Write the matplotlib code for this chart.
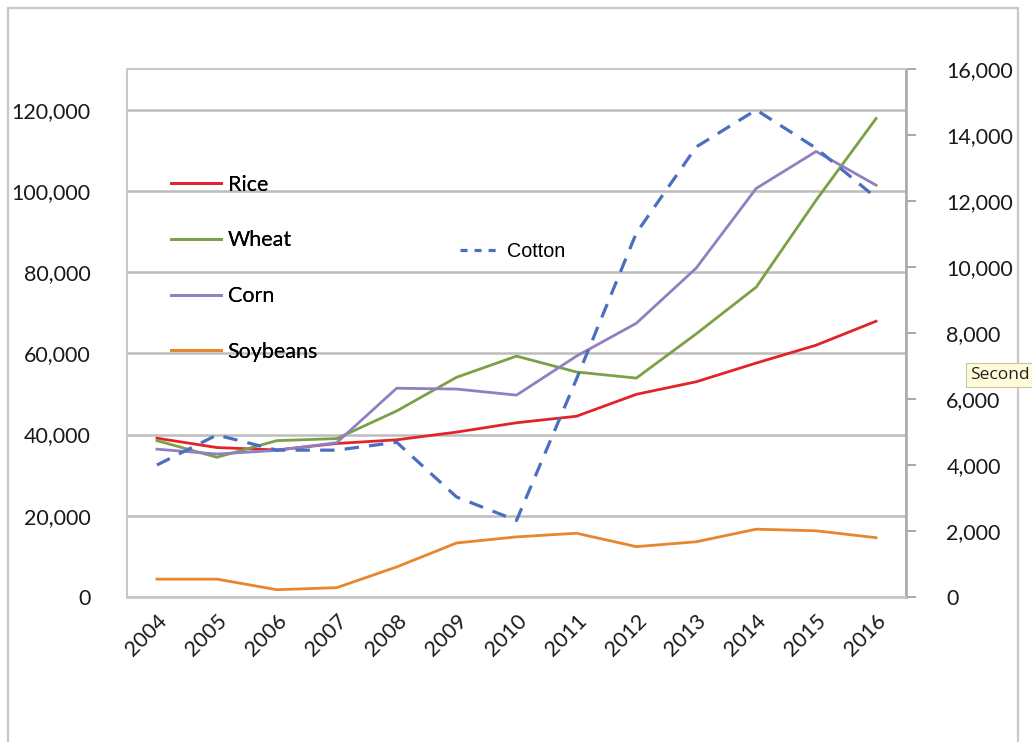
import matplotlib
matplotlib.use("Agg")
import matplotlib.pyplot as plt
from matplotlib.lines import Line2D
from matplotlib.patches import Rectangle
from matplotlib.ticker import FuncFormatter, MultipleLocator

years = ["2004", "2005", "2006", "2007", "2008", "2009", "2010",
         "2011", "2012", "2013", "2014", "2015", "2016"]

rice = [39100, 36800, 36200, 37800, 38700, 40600, 42900,
        44500, 49900, 53000, 57600, 62000, 67900]
wheat = [38500, 34400, 38500, 39000, 45800, 54100, 59300,
         55400, 53900, 64800, 76300, 97700, 117800]
corn = [36400, 35200, 36100, 38000, 51400, 51200, 49700,
        59300, 67400, 81000, 100600, 109700, 101400]
soybeans = [4400, 4400, 1800, 2300, 7400, 13300, 14800,
            15700, 12400, 13600, 16700, 16300, 14600]
cotton = [4000, 4910, 4450, 4450, 4690, 3030, 2320,
          6600, 11030, 13640, 14760, 13600, 12100]

primary_names = ["Rice", "Wheat", "Corn", "Soybeans"]
primary_colors = ["#e2232a", "#7ba046", "#927fc1", "#e8852d"]
cotton_color = "#4a6fc1"

label_font = ["Lato", "DejaVu Sans"]
plt.rcParams["font.family"] = label_font

fig = plt.figure(figsize=(10.32, 7.42), dpi=100)
fig.patch.set_facecolor("white")

# outer chart frame
fig.add_artist(Rectangle((8 / 1032, -0.05), (1018 - 8) / 1032, 1.05 - 8 / 742,
                         transform=fig.transFigure, fill=False,
                         edgecolor="#c8c8c8", linewidth=1.6))

ax = fig.add_axes([127 / 1032, 1 - 597 / 742, (906 - 127) / 1032, (597 - 69) / 742])
ax2 = ax.twinx()

x = list(range(len(years)))
series = [rice, wheat, corn, soybeans]
lines = []
for vals, name, col in zip(series, primary_names, primary_colors):
    ln, = ax.plot(x, vals, color=col, linewidth=2.0, label=name,
                  solid_joinstyle="round")
    lines.append(ln)

ax2.plot(x, cotton, color=cotton_color, linewidth=2.3,
         linestyle=(0, (4.5, 3.2)), label="Cotton")

ax.set_xlim(-0.5, len(years) - 0.5)
ax.set_ylim(0, 130000)
ax2.set_ylim(0, 16000)

ax.set_yticks(range(0, 120001, 20000))
ax.yaxis.set_major_formatter(FuncFormatter(lambda v, p: f"{int(v):,}"))
ax2.yaxis.set_major_locator(MultipleLocator(2000))
ax2.yaxis.set_major_formatter(FuncFormatter(lambda v, p: f"{int(v):,}"))

ax.grid(axis="y", color="#bdbdbd", linewidth=1.8)
ax.set_axisbelow(True)

for a in (ax, ax2):
    for s in a.spines.values():
        s.set_color("#c8c8c8")
        s.set_linewidth(1.4)
ax.spines["bottom"].set_color("#bdbdbd")
ax.spines["bottom"].set_linewidth(1.8)
ax2.spines["right"].set_color("#a8a8a8")
ax2.spines["right"].set_linewidth(1.8)

ax.tick_params(axis="y", length=0, pad=26, labelsize=15.5, labelcolor="#1a1a1a")
ax2.tick_params(axis="y", length=7, width=1.4, color="#a8a8a8", pad=22,
                labelsize=15.5, labelcolor="#1a1a1a")
for lbl in ax2.yaxis.get_majorticklabels():
    lbl.set_verticalalignment("center_baseline")

ax.set_xticks(x)
ax.set_xticklabels(years, rotation=45, ha="right", va="top",
                   rotation_mode="anchor", fontsize=15.5, color="#1a1a1a")
ax.tick_params(axis="x", length=0, pad=10)

leg1 = ax.legend(handles=lines, loc="upper left",
                 bbox_to_anchor=((162 - 127) / 779, (597 - 166) / 528),
                 frameon=False, fontsize=15.5, handlelength=2.35,
                 handletextpad=0.3, labelspacing=1.66, borderaxespad=0)
ax.add_artist(leg1)

# legend key for the secondary series, drawn with short dashes
cotton_key = Line2D([], [], color=cotton_color, linewidth=2.3,
                    linestyle=(0, (2.2, 2.2)), label="Cotton")
ax2.legend(handles=[cotton_key], loc="upper left",
           bbox_to_anchor=((452 - 127) / 779, (597 - 234) / 528),
           frameon=False, handlelength=1.9, handletextpad=0.5,
           borderaxespad=0, prop={"family": ["Liberation Sans", "DejaVu Sans"],
                                  "size": 14.2})

# hover tooltip at the right edge
fig.text(970 / 1032, 1 - 375 / 742, "Second",
         ha="left", va="center", fontsize=12.5, color="#222222",
         family=["Open Sans", "DejaVu Sans"],
         bbox=dict(boxstyle="square,pad=0.25", facecolor="#fdfbd9",
                   edgecolor="#c9c6a6", linewidth=0.8))

fig.savefig("out.png", dpi=100, facecolor="white")
